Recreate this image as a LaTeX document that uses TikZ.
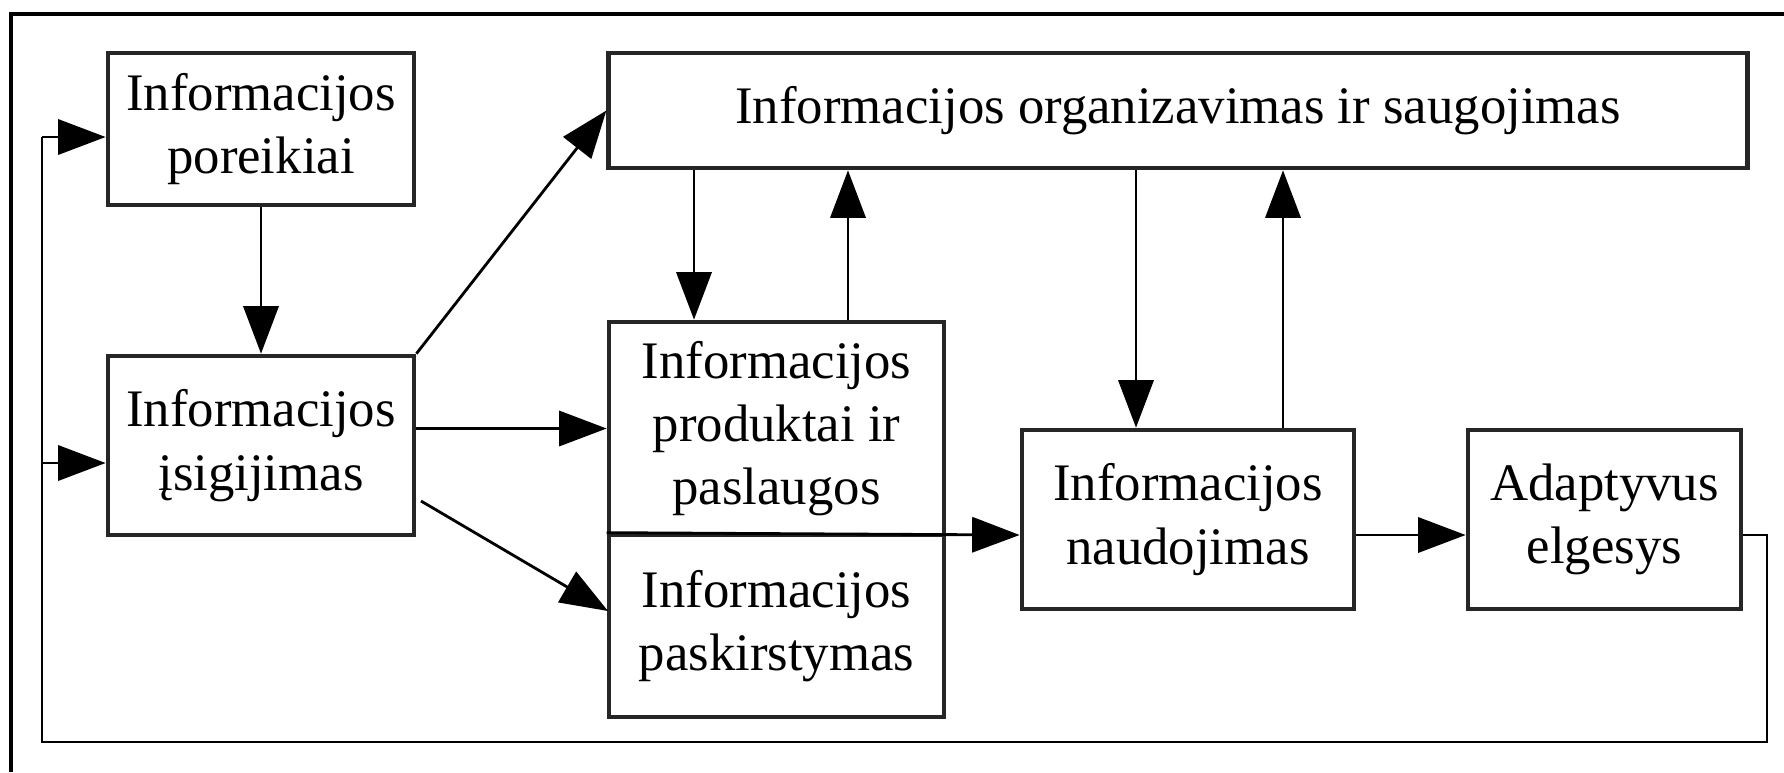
\documentclass[tikz,border=0pt]{standalone}
\usepackage{fontspec}
\setmainfont{Liberation Serif}
\usetikzlibrary{arrows.meta}
\begin{document}
\begin{tikzpicture}[x=0.01cm,y=-0.01cm,
  box/.style={draw=black!85, line width=1.3pt, inner sep=0pt, align=center,
    font=\fontsize{15}{18}\selectfont},
  arr/.style={-{Triangle[length=13.5pt,width=10pt]}, line width=0.8pt},
  ln/.style={line width=0.8pt}]
\useasboundingbox (0,0) rectangle (1784,772);
\draw[line width=1.3pt] (11,772) -- (11,14) -- (1784,14);

\node[box, minimum width=30.6mm, minimum height=15.2mm] (por) at (261,129) {Informacijos\\poreikiai};
\node[box, minimum width=30.6mm, minimum height=17.9mm] (isi) at (261,445.5) {Informacijos\\įsigijimas};
\node[box, minimum width=113.8mm, minimum height=11.5mm] (org) at (1178,110.5) {Informacijos organizavimas ir saugojimas};
\node[box, minimum width=33.5mm, minimum height=21.3mm] (proda) at (776.5,428.5) {Informacijos\\produktai ir\\paslaugos};
\node[box, minimum width=33.5mm, minimum height=18.2mm] (prodb) at (776.5,626) {Informacijos\\paskirstymas};
\node[box, minimum width=33.2mm, minimum height=17.9mm] (naud) at (1188,519.5) {Informacijos\\naudojimas};
\node[box, minimum width=27.3mm, minimum height=17.9mm] (adapt) at (1604.5,519.5) {Adaptyvus\\elgesys};

\coordinate (lvl) at (0,535);
\coordinate (fb1) at (1767,535);
\coordinate (fb2) at (1767,742);
\coordinate (fb3) at (42,742);
\coordinate (fb4) at (42,137);
\coordinate (fb5) at (42,463);
\coordinate (d1) at (421,501);
\coordinate (d2) at (608,611);

% feedback loop
\draw[ln] (adapt.east |- lvl) -- (fb1) -- (fb2) -- (fb3) -- (fb4);
\draw[arr] (fb4) -- (por.west |- fb4);
\draw[arr] (fb5) -- (isi.west |- fb5);

\draw[arr] (por.south) -- (isi.north);
\draw[arr] (isi.north east) -- (org.west);
\draw[arr] (isi.east |- proda.west) -- (proda.west);
\draw[arr] (d1) -- (d2);

\draw[arr] (org.south -| 694,0) -- (proda.north -| 694,0);
\draw[arr] (proda.north -| 848,0) -- (org.south -| 848,0);
\draw[arr] (org.south -| 1136,0) -- (naud.north -| 1136,0);
\draw[arr] (naud.north -| 1283,0) -- (org.south -| 1283,0);

\draw[arr] (prodb.north west) -- (naud.west |- lvl);
\draw[arr] (naud.east |- lvl) -- (adapt.west |- lvl);
\end{tikzpicture}
\end{document}
